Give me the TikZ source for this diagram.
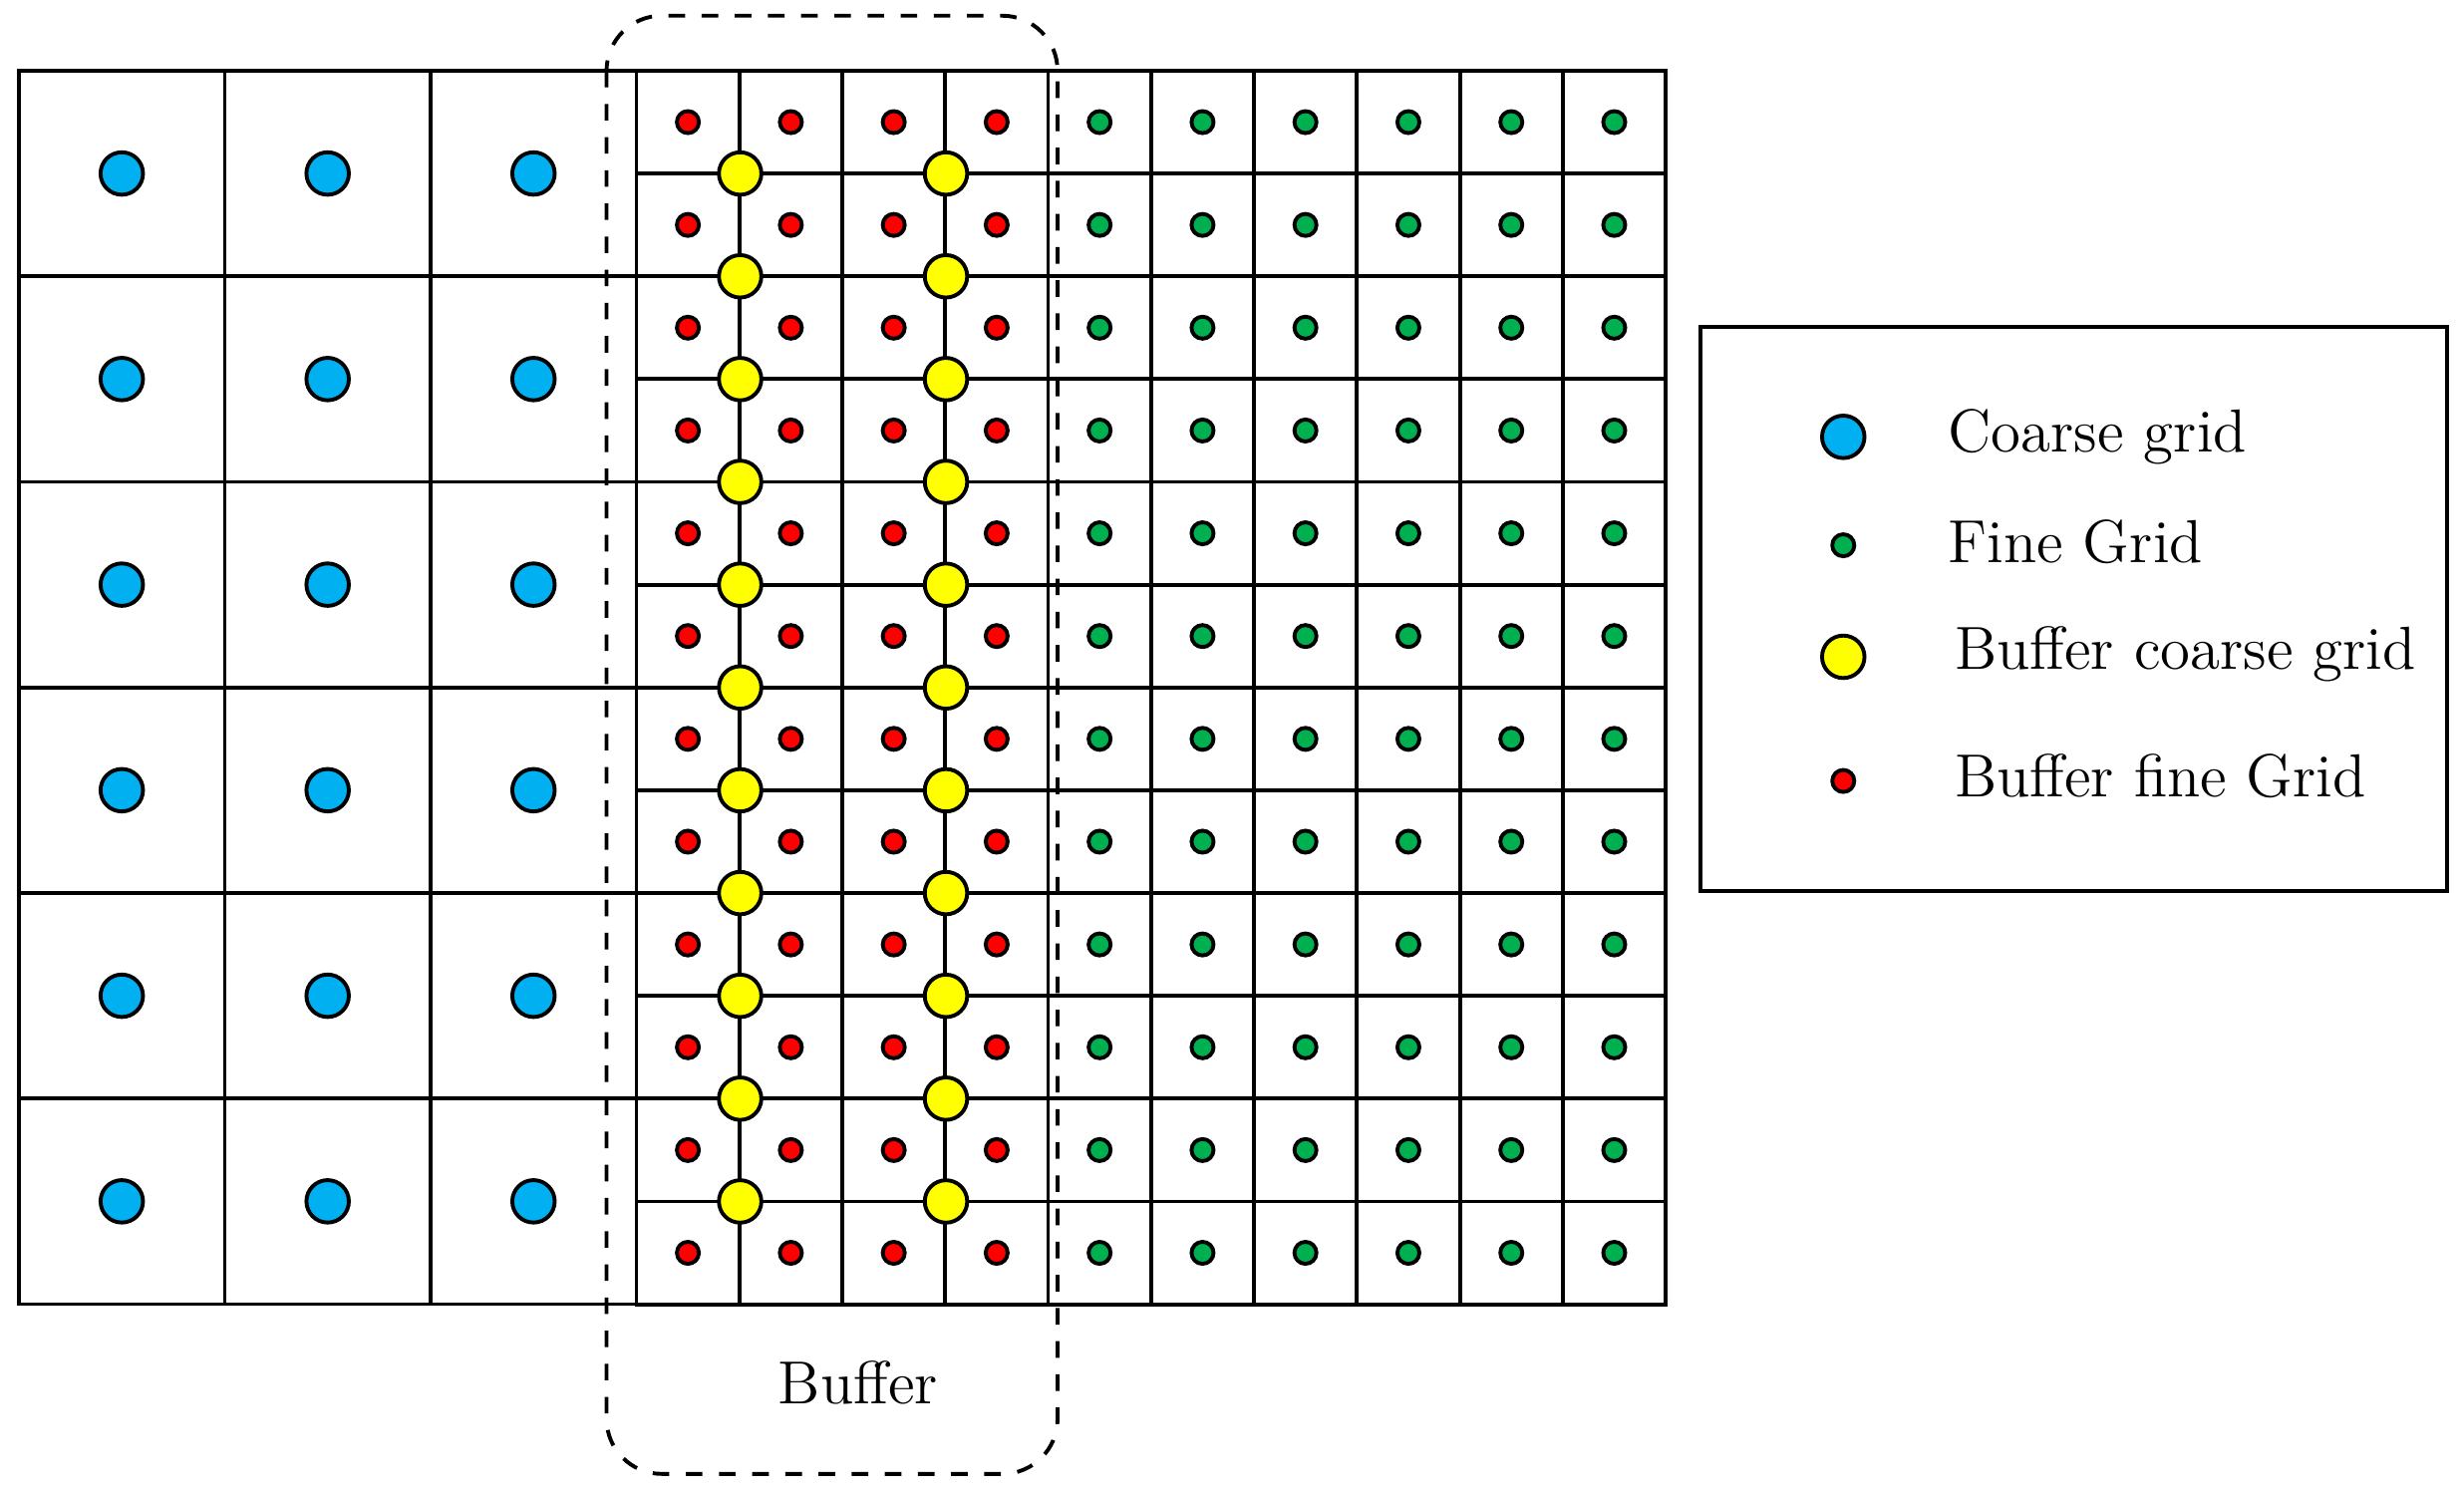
\documentclass[tikz,border=0pt]{standalone}
\definecolor{cyanb}{HTML}{00B0F0}
\definecolor{greenb}{HTML}{00B050}
\definecolor{redb}{HTML}{FF0000}
\definecolor{yelb}{HTML}{FFFF00}
\begin{document}
\begin{tikzpicture}[x=0.01cm,y=-0.01cm,line width=0.7pt,
 coarse/.style={circle,draw=black,fill=cyanb,minimum size=0.27cm,inner sep=0pt},
 yel/.style={circle,draw=black,fill=yelb,minimum size=0.27cm,inner sep=0pt},
 fine/.style={circle,draw=black,fill=greenb,minimum size=0.14cm,inner sep=0pt},
 red/.style={circle,draw=black,fill=redb,minimum size=0.14cm,inner sep=0pt},
 lbl/.style={anchor=west,font=\fontsize{11}{13}\selectfont}]
\useasboundingbox (0,0) rectangle (1568,950);
% coarse cells
\foreach \i in {0,...,2}{\foreach \j in {0,...,5}{
  \draw (12+131*\i,45+130.83*\j) rectangle ++(131,130.83);
  \node[coarse] (c\i\j) at (77.5+131*\i,110.4+130.83*\j) {};}}
% fine cells
\foreach \i in {0,...,9}{\foreach \j in {0,...,11}{
  \draw (405+65.5*\i,45+65.42*\j) rectangle ++(65.5,65.42);
  \ifnum\i<4 \node[red] (f\i-\j) at (437.75+65.5*\i,77.7+65.42*\j) {};
  \else \node[fine] (f\i-\j) at (437.75+65.5*\i,77.7+65.42*\j) {}; \fi}}
% yellow buffer coarse
\foreach \j in {1,...,11}{
  \node[yel] (ya\j) at (471,45+65.42*\j) {};
  \node[yel] (yb\j) at (602,45+65.42*\j) {};}
% buffer
\draw[dashed,rounded corners=0.35cm] (386,10) rectangle (673,938);
\node[font=\fontsize{11}{13}\selectfont] (buf) at (546,880) {Buffer};
% legend
\draw (1082,208) rectangle (1557,567);
\node[coarse] (l1) at (1173,278) {};
\node[fine] (l2) at (1173,347) {};
\node[yel] (l3) at (1173,418) {};
\node[red] (l4) at (1173,497) {};
\node[lbl] at (1227,278) {Coarse grid};
\node[lbl] at (1227,345) {Fine Grid};
\node[lbl] at (1231,416) {Buffer coarse grid};
\node[lbl] at (1231,494) {Buffer fine Grid};
\end{tikzpicture}
\end{document}
